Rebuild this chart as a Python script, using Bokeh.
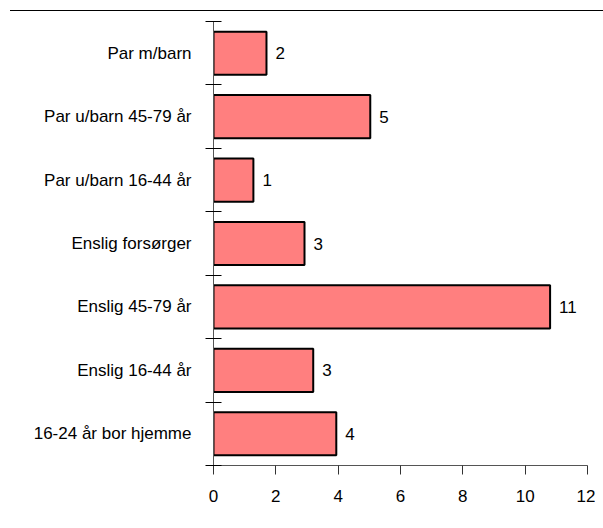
from bokeh.plotting import figure
from bokeh.models import Range1d, FixedTicker, ColumnDataSource, Div
from bokeh.layouts import column
from bokeh.embed import file_html
from bokeh.resources import INLINE
from bokeh.core.properties import value

categories = ["Par m/barn", "Par u/barn 45-79 år", "Par u/barn 16-44 år",
              "Enslig forsørger", "Enslig 45-79 år", "Enslig 16-44 år",
              "16-24 år bor hjemme"]
values = [1.7, 5.03, 1.28, 2.92, 10.8, 3.2, 3.94]
value_labels = ["2", "5", "1", "3", "11", "3", "4"]
x_ticks = [0, 2, 4, 6, 8, 10, 12]

n = len(categories)
ypos = [n - 1 - i + 0.5 for i in range(n)]
src = ColumnDataSource(dict(y=ypos, v=values, lab=value_labels, cat=categories))

FONT = "Liberation Sans"

p = figure(width=595, height=507, output_backend="svg", toolbar_location=None,
           x_range=Range1d(0, 12), y_range=Range1d(0, n),
           min_border_left=213, min_border_right=8, min_border_top=8,
           min_border_bottom=55)
p.outline_line_color = None
p.xgrid.visible = False
p.ygrid.visible = False

p.hbar(y="y", right="v", left=0, height=0.68, source=src,
       fill_color="#ff7f7f", line_color="black", line_width=2)
p.text(x="v", y="y", text="lab", source=src, x_offset=9,
       text_baseline="middle", text_align="left",
       text_font=value(FONT), text_font_size="17px", text_color="black")

# x axis
xa = p.xaxis[0]
xa.ticker = FixedTicker(ticks=x_ticks)
xa.major_tick_out = 9
xa.major_tick_in = 0
xa.minor_tick_line_color = None
xa.axis_line_color = "#555555"
xa.major_tick_line_color = "#333333"
xa.major_label_text_font = FONT
xa.major_label_text_font_size = "17px"
xa.major_label_text_color = "black"
xa.major_label_standoff = 15

# y axis: labels at category centers, ticks at boundaries
ya = p.yaxis[0]
ya.ticker = FixedTicker(ticks=ypos, minor_ticks=list(range(n + 1)))
ya.major_label_overrides = {y: c for y, c in zip(ypos, categories)}
ya.major_tick_line_color = None
ya.major_tick_out = 0
ya.major_tick_in = 0
ya.minor_tick_out = 8
ya.minor_tick_in = 8
ya.minor_tick_line_color = "black"
ya.axis_line_color = "#555555"
ya.major_label_text_font = FONT
ya.major_label_text_font_size = "17px"
ya.major_label_text_color = "black"
ya.major_label_standoff = 14

top_line = Div(text="", width=593, height=3, margin=(10, 0, 0, 10),
               styles={"border-top": "1px solid black", "box-sizing": "border-box"})

layout = column(top_line, p, spacing=0)
open("out.html", "w").write(file_html(layout, INLINE))
